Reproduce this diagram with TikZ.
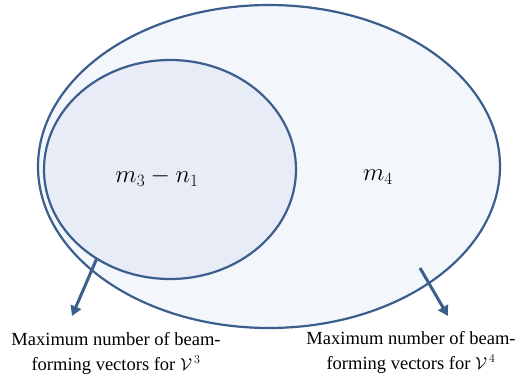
\documentclass[tikz,border=0pt]{standalone}
\usepackage{fontspec}
\setmainfont{Liberation Serif}
\usetikzlibrary{arrows.meta}
\definecolor{edge}{HTML}{3B5E8C}
\definecolor{outerfill}{HTML}{F3F6FB}
\definecolor{innerfill}{HTML}{E7ECF6}
\begin{document}
\begin{tikzpicture}[x=1pt,y=-1pt,
  setline/.style={draw=edge,line width=2.2pt},
  pointer/.style={draw=edge,line width=3pt,-{Triangle[length=10pt,width=11pt]}},
  caption/.style={align=center,font=\fontsize{18.5}{25}\selectfont,inner sep=0pt},
  lab/.style={font=\fontsize{23}{27}\selectfont}]
\useasboundingbox (0,0) rectangle (520,383);
\draw[setline,fill=outerfill] (269,166.5) ellipse [x radius=231,y radius=161.5];
\draw[setline,fill=innerfill] (170,169.5) ellipse [x radius=126,y radius=109.5];
\node[lab] (a) at (157,177) {$m_3-n_1$};
\node[lab] (b) at (378,177) {$m_4$};
\coordinate (s1) at (97,258);
\coordinate (t1) at (72,316);
\coordinate (s2) at (420,268);
\coordinate (t2) at (448,316);
\draw[pointer] (s1) -- (t1);
\draw[pointer] (s2) -- (t2);
\node[caption,anchor=north] (c1) at (116,332) {Maximum number of beam-\\forming vectors for $\mathcal{V}^{\,3}$};
\node[caption,anchor=north] (c2) at (411,331) {Maximum number of beam-\\forming vectors for $\mathcal{V}^{\,4}$};
\end{tikzpicture}
\end{document}
